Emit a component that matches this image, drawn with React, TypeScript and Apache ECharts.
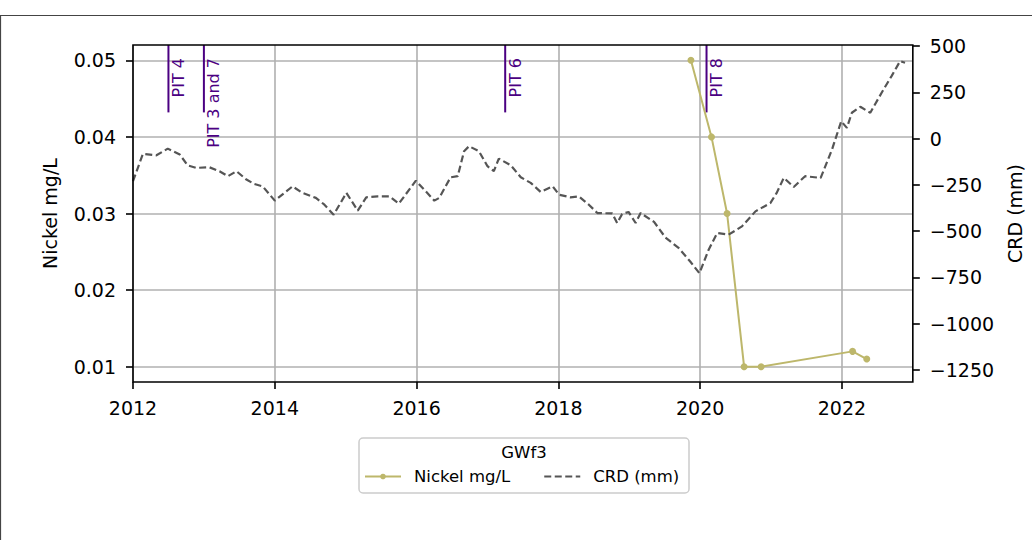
import React, { useEffect, useRef } from 'react';
import * as echarts from 'echarts';

const crdYears = [
  2012.0, 2012.14, 2012.33, 2012.49, 2012.66, 2012.77, 2012.89, 2013.08, 2013.22, 2013.34,
  2013.46, 2013.6, 2013.71, 2013.83, 2014.0, 2014.25, 2014.39, 2014.58, 2014.7, 2014.83,
  2015.01, 2015.17, 2015.29, 2015.45, 2015.62, 2015.75, 2015.99, 2016.25, 2016.32, 2016.48,
  2016.58, 2016.67, 2016.74, 2016.88, 2017.0, 2017.09, 2017.16, 2017.33, 2017.47, 2017.61,
  2017.75, 2017.92, 2018.01, 2018.17, 2018.29, 2018.43, 2018.55, 2018.76, 2018.83, 2018.9,
  2018.99, 2019.09, 2019.16, 2019.35, 2019.51, 2019.7, 2019.86, 2019.99, 2020.12, 2020.24,
  2020.4, 2020.59, 2020.78, 2020.99, 2021.08, 2021.18, 2021.32, 2021.48, 2021.7, 2021.86,
  2021.99, 2022.07, 2022.14, 2022.26, 2022.4, 2022.56, 2022.7, 2022.82, 2022.89,
];
const crdValues = [
  -230, -82, -90, -54, -86, -144, -158, -155, -176, -203,
  -176, -221, -245, -258, -335, -258, -293, -320, -357, -411,
  -293, -389, -317, -312, -312, -351, -227, -335, -320, -209,
  -203, -68, -41, -68, -149, -176, -108, -144, -209, -239,
  -288, -258, -303, -317, -312, -357, -402, -404, -456, -407,
  -396, -456, -402, -450, -534, -592, -664, -727, -600, -510,
  -519, -474, -393, -348, -293, -212, -261, -203, -212, -59,
  94, 58, 140, 172, 140, 248, 338, 419, 410,
];

const nickelYears = [2019.87, 2020.16, 2020.38, 2020.62, 2020.86, 2022.15, 2022.35];
const nickelValues = [0.05, 0.04, 0.03, 0.01, 0.01, 0.012, 0.011];

const pitYears = [2012.5, 2013.0, 2017.25, 2020.09];
const pitLabels = ['PIT 4', 'PIT 3 and 7', 'PIT 6', 'PIT 8'];

const xTicks = [2012, 2014, 2016, 2018, 2020, 2022];
const nickelTicks = [0.01, 0.02, 0.03, 0.04, 0.05];
const crdTicks = [500, 250, 0, -250, -500, -750, -1000, -1250];

const X_MIN = 2012;
const X_MAX = 2023;
const NI_MIN = 0.008;
const NI_MAX = 0.052;
const CRD_MIN = -1315;
const CRD_MAX = 506;

const FONT = '"DejaVu Sans", "Liberation Sans", sans-serif';
const NICKEL_COLOR = '#bdb76b';
const CRD_COLOR = '#555555';
const PIT_COLOR = '#4b0082';
const GRID_COLOR = '#b0b0b0';

const minus = (v: number | string) => String(v).replace('-', '\u2212');

export default function App() {
  const ref = useRef<HTMLDivElement>(null);

  useEffect(() => {
    if (!ref.current) return;
    const chart = echarts.init(ref.current, undefined, { renderer: 'svg' });

    const crdData = crdYears.map((y, i) => [y, crdValues[i]]);
    const nickelData = nickelYears.map((y, i) => [y, nickelValues[i]]);
    const pitData = pitYears.map((y, i) => [y, i]);

    const option: any = {
      animation: false,
      backgroundColor: '#ffffff',
      textStyle: { fontFamily: FONT },
      grid: {
        left: 133,
        right: 118,
        top: 45,
        bottom: 158,
        show: true,
        borderColor: '#000',
        borderWidth: 1.6,
        backgroundColor: 'transparent',
        z: 10,
      },
      xAxis: {
        type: 'value',
        min: X_MIN,
        max: X_MAX,
        axisLine: { show: false, onZero: false },
        axisTick: {
          show: true,
          length: 7,
          lineStyle: { color: '#000', width: 1.6 },
          customValues: xTicks,
        },
        axisLabel: {
          color: '#000',
          fontSize: 19,
          fontFamily: FONT,
          margin: 16,
          customValues: xTicks,
          formatter: (v: number) => String(v),
        },
        splitLine: { show: true, lineStyle: { color: GRID_COLOR, width: 1.6 } },
      },
      yAxis: [
        {
          type: 'value',
          position: 'left',
          min: NI_MIN,
          max: NI_MAX,
          name: 'Nickel mg/L',
          nameLocation: 'middle',
          nameGap: 74,
          nameTextStyle: { color: '#000', fontSize: 19, fontFamily: FONT },
          axisLine: { show: false, onZero: false },
          axisTick: {
            show: true,
            length: 7,
            lineStyle: { color: '#000', width: 1.6 },
            customValues: nickelTicks,
          },
          axisLabel: {
            color: '#000',
            fontSize: 19,
            fontFamily: FONT,
            margin: 17,
            customValues: nickelTicks,
            formatter: (v: number) => v.toFixed(2),
          },
          splitLine: { show: true, lineStyle: { color: GRID_COLOR, width: 1.6 } },
        },
        {
          type: 'value',
          position: 'right',
          min: CRD_MIN,
          max: CRD_MAX,
          name: 'CRD (mm)',
          nameLocation: 'middle',
          nameGap: 92,
          nameTextStyle: { color: '#000', fontSize: 19, fontFamily: FONT },
          axisLine: { show: false, onZero: false },
          axisTick: {
            show: true,
            length: 7,
            lineStyle: { color: '#000', width: 1.6 },
            customValues: crdTicks,
          },
          axisLabel: {
            color: '#000',
            fontSize: 19,
            fontFamily: FONT,
            margin: 17,
            customValues: crdTicks,
            formatter: (v: number) => minus(v),
          },
          splitLine: { show: false },
        },
      ],
      legend: {
        data: [
          { name: 'Nickel mg/L' },
          { name: 'CRD (mm)', itemStyle: { opacity: 0 } },
        ],
        left: 364,
        top: 468,
        itemWidth: 36,
        itemHeight: 7,
        itemGap: 33,
        padding: 0,
        textStyle: { color: '#000', fontSize: 16.5, fontFamily: FONT, padding: [0, 0, 0, 8] },
        z: 20,
      },
      graphic: [
        {
          type: 'rect',
          silent: true,
          z: -10,
          shape: { x: 0.5, y: 15.5, width: 1200, height: 700 },
          style: { fill: 'none', stroke: '#444', lineWidth: 1.2 },
        },
        {
          type: 'rect',
          silent: true,
          z: 5,
          shape: { x: 359, y: 438, width: 330, height: 55, r: 4 },
          style: { fill: 'rgba(255,255,255,0.8)', stroke: '#cccccc', lineWidth: 1.5 },
        },
        {
          type: 'text',
          silent: true,
          z: 6,
          x: 524,
          y: 452,
          style: {
            text: 'GWf3',
            fill: '#000',
            font: `16.5px ${FONT}`,
            align: 'center',
            verticalAlign: 'middle',
          },
        },
      ],
      series: [
        {
          name: 'PIT',
          type: 'custom',
          xAxisIndex: 0,
          yAxisIndex: 0,
          data: pitData,
          clip: false,
          renderItem: (params: any, api: any) => {
            const xv = api.value(0);
            const idx = api.value(1);
            const top = api.coord([xv, NI_MAX]);
            const bot = api.coord([xv, NI_MIN + 0.8 * (NI_MAX - NI_MIN)]);
            return {
              type: 'group',
              children: [
                {
                  type: 'line',
                  shape: { x1: top[0], y1: top[1], x2: bot[0], y2: bot[1] },
                  style: { stroke: PIT_COLOR, lineWidth: 2 },
                },
                {
                  type: 'text',
                  x: top[0] + 2,
                  y: top[1] + 13,
                  rotation: Math.PI / 2,
                  style: {
                    text: pitLabels[idx],
                    fill: PIT_COLOR,
                    font: `16px ${FONT}`,
                    align: 'right',
                    verticalAlign: 'top',
                  },
                },
              ],
            };
          },
        },
        {
          name: 'Nickel mg/L',
          type: 'line',
          xAxisIndex: 0,
          yAxisIndex: 0,
          data: nickelData,
          symbol: 'circle',
          symbolSize: 7,
          showSymbol: true,
          itemStyle: { color: NICKEL_COLOR },
          lineStyle: { color: NICKEL_COLOR, width: 2 },
          z: 3,
        },
        {
          name: 'CRD (mm)',
          type: 'line',
          xAxisIndex: 0,
          yAxisIndex: 1,
          data: crdData,
          symbol: 'none',
          showSymbol: false,
          itemStyle: { color: CRD_COLOR },
          lineStyle: { color: CRD_COLOR, width: 2.2, type: [7, 3.5] },
          z: 4,
        },
      ],
    };

    chart.setOption(option);
    return () => {
      chart.dispose();
    };
  }, []);

  return (
    <div
      ref={ref}
      style={{ position: 'fixed', left: 0, top: 0, width: 1032, height: 540, background: '#fff' }}
    />
  );
}
